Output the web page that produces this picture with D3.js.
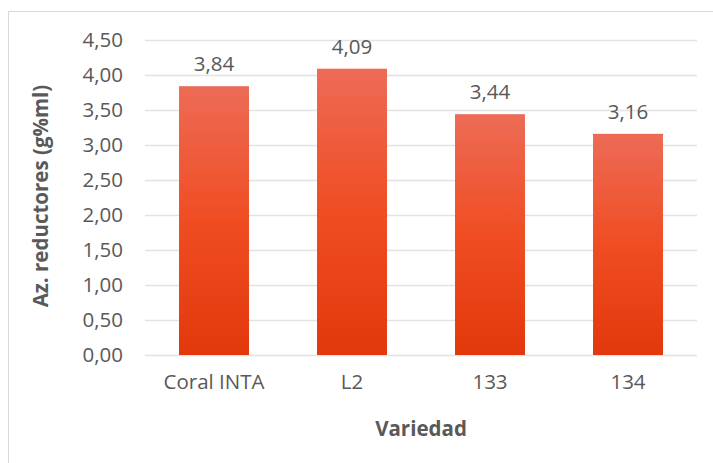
<!DOCTYPE html>
<html><head><meta charset="utf-8">
<script src="https://cdn.jsdelivr.net/npm/d3@7"></script>
<style>html,body{margin:0;padding:0;background:#fff;}svg{display:block;}</style>
</head><body>
<svg id="chart" width="713" height="463"></svg>
<script>
const categories = ["Coral INTA", "L2", "133", "134"];
const values = [3.84, 4.09, 3.44, 3.16];
const yTicks = [0, 0.5, 1, 1.5, 2, 2.5, 3, 3.5, 4, 4.5];
const yTitle = "Az. reductores (g%ml)";
const xTitle = "Variedad";

const fmt = v => d3.format(".2f")(v).replace(".", ",");
const svg = d3.select("#chart");
const font = "'Open Sans', sans-serif";
const gray = "#595959";

// chart border
svg.append("rect").attr("x", 8.5).attr("y", 11.5).attr("width", 720).attr("height", 470)
  .attr("fill", "#fff").attr("stroke", "#d9d9d9").attr("stroke-width", 1);

const defs = svg.append("defs");
const grad = defs.append("linearGradient").attr("id", "barGrad")
  .attr("x1", 0).attr("y1", 0).attr("x2", 0).attr("y2", 1);
grad.append("stop").attr("offset", "0%").attr("stop-color", "#ed6b56");
grad.append("stop").attr("offset", "50%").attr("stop-color", "#f04d22");
grad.append("stop").attr("offset", "100%").attr("stop-color", "#e2380b");

const x = d3.scaleBand().domain(categories).range([145, 697]).paddingInner(0.493).paddingOuter(0.2465);
const y = d3.scaleLinear().domain([0, 4.5]).range([355, 40]);

// gridlines
svg.append("g").selectAll("line").data(yTicks).join("line")
  .attr("x1", 145).attr("x2", 697)
  .attr("y1", d => Math.round(y(d)) + 0.5).attr("y2", d => Math.round(y(d)) + 0.5)
  .attr("stroke", "#e3e3e0").attr("stroke-width", 1.6);

// y axis
const yAxis = d3.axisLeft(y).tickValues(yTicks).tickFormat(fmt).tickSize(0).tickPadding(22);
const gy = svg.append("g").attr("transform", "translate(145,0)").call(yAxis);
gy.select(".domain").remove();
gy.selectAll("text").attr("font-family", font).attr("font-size", 20.5).attr("fill", gray);

// bars
svg.append("g").selectAll("rect").data(values).join("rect")
  .attr("x", (d, i) => x(categories[i]))
  .attr("width", x.bandwidth())
  .attr("y", d => y(d))
  .attr("height", d => y(0) - y(d))
  .attr("fill", "url(#barGrad)");

// value labels
svg.append("g").selectAll("text").data(values).join("text")
  .attr("x", (d, i) => x(categories[i]) + x.bandwidth() / 2)
  .attr("y", d => y(d) - 15)
  .attr("text-anchor", "middle")
  .attr("font-family", font).attr("font-size", 20.5).attr("fill", gray)
  .text(d => fmt(d));

// x axis
const xAxis = d3.axisBottom(x).tickSize(0).tickPadding(19);
const gx = svg.append("g").attr("transform", "translate(0,355)").call(xAxis);
gx.select(".domain").remove();
gx.selectAll("text").attr("font-family", font).attr("font-size", 20.5).attr("fill", gray);

// axis titles
svg.append("text").attr("x", 421).attr("y", 436).attr("text-anchor", "middle")
  .attr("font-family", font).attr("font-size", 20.5).attr("font-weight", "bold").attr("fill", gray)
  .text(xTitle);
svg.append("text").attr("transform", "translate(48,196) rotate(-90)").attr("text-anchor", "middle")
  .attr("font-family", font).attr("font-size", 20.5).attr("font-weight", "bold").attr("fill", gray)
  .text(yTitle);
</script>
</body></html>
